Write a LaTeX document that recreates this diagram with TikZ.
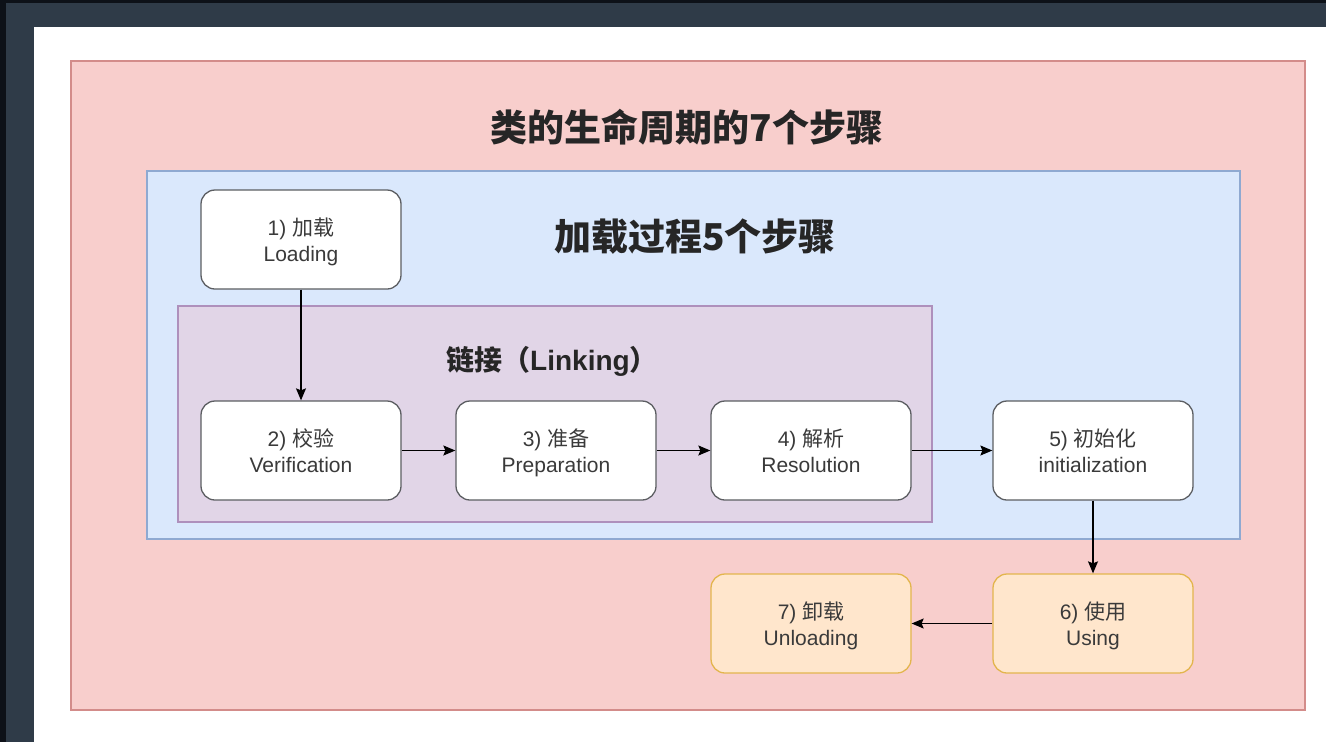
\documentclass[tikz,border=0pt]{standalone}
\usepackage{fontspec}
\setmainfont{Liberation Sans}
\newfontfamily\cjk{Noto Sans CJK SC}
\usetikzlibrary{arrows.meta}
\definecolor{frameA}{HTML}{2F3B48}
\definecolor{frameB}{HTML}{0D1118}
\definecolor{redfill}{HTML}{F8CECC}
\definecolor{redline}{HTML}{D38C8A}
\definecolor{bluefill}{HTML}{DAE8FC}
\definecolor{blueline}{HTML}{8FA9D1}
\definecolor{purfill}{HTML}{E1D5E7}
\definecolor{purline}{HTML}{AE90BC}
\definecolor{orfill}{HTML}{FFE6CC}
\definecolor{orline}{HTML}{E3B54D}
\definecolor{nodeline}{HTML}{5C5E62}
\definecolor{txt}{HTML}{3A3A3A}
\newcommand{\topstrut}{\rule{0pt}{26.2pt}}
\tikzset{
  x=1pt,y=-1pt,
  stepbox/.style={draw=nodeline,line width=1.3pt,fill=white,rounded corners=14pt,
    minimum width=200pt,minimum height=99pt,align=center,text=txt,
    font=\fontsize{21}{26}\selectfont},
  usebox/.style={stepbox,draw=orline,fill=orfill},
  conn/.style={line width=1.2pt,-{Stealth[length=12pt,width=10pt,inset=2pt]}},
  titletext/.style={font=\bfseries\fontsize{37}{40}\selectfont,text=black!85},
}
\begin{document}
\begin{tikzpicture}
\useasboundingbox (0,0) rectangle (1326,742);
% dark frame
\fill[frameA] (0,0) rectangle (1326,742);
\fill[frameB] (0,0) rectangle (1326,3);
\fill[frameB] (0,0) rectangle (6,742);
\fill[white] (34,27) rectangle (1326,742);
% containers
\draw[fill=redfill,draw=redline,line width=1.5pt] (71,61) rectangle (1305,710);
\draw[fill=bluefill,draw=blueline,line width=1.5pt] (147,171) rectangle (1240,539);
\draw[fill=purfill,draw=purline,line width=1.5pt] (178,306) rectangle (932,522);
% titles
\node[titletext] (t1) at (687,127) {\cjk 类的生命周期的7个步骤};
\node[titletext] (t2) at (695,237) {\cjk 加载过程5个步骤};
\node[font=\bfseries\fontsize{28}{32}\selectfont,text=black!85] (t3) at (552,361) {{\cjk 链接（}Linking{\cjk ）}};
% steps
\node[stepbox] (n1) at (301,239.5) {\topstrut 1) {\cjk 加载}\\\strut Loading};
\node[stepbox] (n2) at (301,450.5) {\topstrut 2) {\cjk 校验}\\\strut Verification};
\node[stepbox] (n3) at (556,450.5) {\topstrut 3) {\cjk 准备}\\\strut Preparation};
\node[stepbox] (n4) at (811,450.5) {\topstrut 4) {\cjk 解析}\\\strut Resolution};
\node[stepbox] (n5) at (1093,450.5) {\topstrut 5) {\cjk 初始化}\\\strut initialization};
\node[usebox] (n6) at (1093,623.5) {\topstrut 6) {\cjk 使用}\\\strut Using};
\node[usebox] (n7) at (811,623.5) {\topstrut 7) {\cjk 卸载}\\\strut Unloading};
% connectors
\draw[conn] (n1) -- (n2);
\draw[conn] (n2) -- (n3);
\draw[conn] (n3) -- (n4);
\draw[conn] (n4) -- (n5);
\draw[conn] (n5) -- (n6);
\draw[conn] (n6) -- (n7);
\end{tikzpicture}
\end{document}
